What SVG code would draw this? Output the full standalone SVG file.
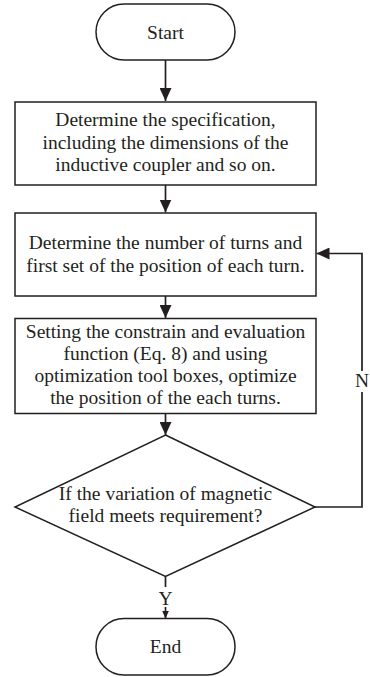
<svg xmlns="http://www.w3.org/2000/svg" width="370" height="677" viewBox="0 0 370 677">
<defs>
<marker id="ah" markerUnits="userSpaceOnUse" markerWidth="13" markerHeight="12" refX="13" refY="6" orient="auto" viewBox="0 0 13 12">
<path d="M0,0 L13,6 L0,12 z" fill="#231f20"/>
</marker>
<marker id="ahs" markerUnits="userSpaceOnUse" markerWidth="8" markerHeight="7" refX="8" refY="3.5" orient="auto" viewBox="0 0 8 7">
<path d="M0,0 L8,3.5 L0,7 z" fill="#231f20"/>
</marker>
<style>
.shape{fill:#fff;stroke:#231f20;stroke-width:1.5}
.conn{fill:none;stroke:#231f20;stroke-width:1.7}
text{font-family:"Liberation Serif","Times New Roman",serif;font-size:19.5px;fill:#231f20;text-anchor:middle}
</style>
</defs>
<rect width="370" height="677" fill="#fff"/>
<g id="connectors">
<line class="conn" x1="165.5" y1="60" x2="165.5" y2="101" marker-end="url(#ah)"/>
<line class="conn" x1="165.5" y1="185" x2="165.5" y2="212.5" marker-end="url(#ah)"/>
<line class="conn" x1="165.5" y1="296" x2="165.5" y2="318" marker-end="url(#ah)"/>
<line class="conn" x1="165.5" y1="413.5" x2="165.5" y2="435" marker-end="url(#ah)"/>
<polyline class="conn" points="315,507 362,507 362,392"/>
<polyline class="conn" points="362,371 362,253.5 316.5,253.5" marker-end="url(#ah)"/>
<line class="conn" x1="165.5" y1="576.5" x2="165.5" y2="587"/>
<line class="conn" x1="165.5" y1="607" x2="165.5" y2="618.5" marker-end="url(#ahs)"/>
<text x="362" y="387">N</text>
<text x="165.5" y="605">Y</text>
</g>
<g id="start">
<rect class="shape" x="96" y="4" width="139" height="56" rx="28" ry="28"/>
<text x="165.5" y="38.5">Start</text>
</g>
<g id="spec">
<rect class="shape" x="15" y="102" width="301" height="83"/>
<text x="165.5" y="126">Determine the specification,</text>
<text x="165.5" y="148.5">including the dimensions of the</text>
<text x="165.5" y="171">inductive coupler and so on.</text>
</g>
<g id="turns">
<rect class="shape" x="15" y="213" width="301" height="83"/>
<text x="165.5" y="249">Determine the number of turns and</text>
<text x="165.5" y="272">first set of the position of each turn.</text>
</g>
<g id="optimize">
<rect class="shape" x="15" y="318.5" width="301" height="95"/>
<text x="165.5" y="337.5">Setting the constrain and evaluation</text>
<text x="165.5" y="359.5">function (Eq. 8) and using</text>
<text x="165.5" y="382">optimization tool boxes, optimize</text>
<text x="165.5" y="404">the position of the each turns.</text>
</g>
<g id="decision">
<polygon class="shape" points="165.5,435 315,507 165.5,576.5 15,507"/>
<text x="165.5" y="500">If the variation of magnetic</text>
<text x="165.5" y="522">field meets requirement?</text>
</g>
<g id="end">
<rect class="shape" x="96" y="618.5" width="139" height="56.5" rx="28" ry="28"/>
<text x="165.5" y="652.5">End</text>
</g>
</svg>
